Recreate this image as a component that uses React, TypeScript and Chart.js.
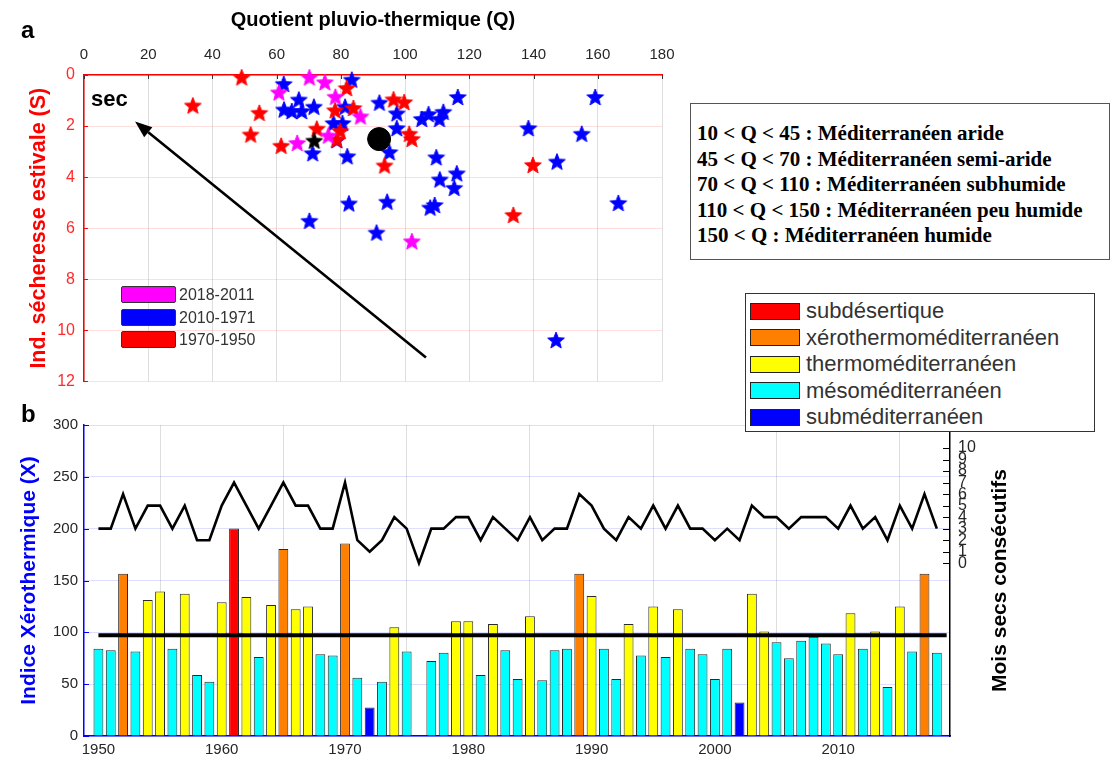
import React, { useEffect, useRef } from 'react';
import { Chart, registerables } from 'chart.js';
Chart.register(...registerables);

const SANS = "'Liberation Sans', Arial, Helvetica, sans-serif";
const SERIF = "'Liberation Serif', 'Times New Roman', serif";

// ---------- Panel a : scatter (Q, S) ----------
const RED_Q = [49.1, 33.9, 54.6, 51.9, 61.4, 72.5, 78.2, 81.8, 83.9, 79.8, 78.7, 96.4, 99.7, 101.3, 102.1, 93.6, 139.8, 133.7];
const RED_S = [0.09, 1.19, 1.48, 2.33, 2.77, 2.10, 1.38, 0.51, 1.29, 2.19, 2.53, 0.95, 1.06, 2.30, 2.50, 3.54, 3.52, 5.48];
const BLUE_Q = [62.2, 66.9, 62.3, 64.7, 67.8, 71.6, 83.4, 81.3, 77.7, 80.5, 78.7, 71.2, 82.0, 92.0, 97.4, 97.4, 95.1, 109.7, 116.4, 105.2, 107.3, 110.7, 111.9, 138.4, 155.0, 159.2, 147.3, 116.1, 110.8, 115.3, 82.5, 94.4, 107.8, 109.2, 166.4, 70.2, 91.1, 147.0];
const BLUE_S = [0.35, 0.96, 1.35, 1.41, 1.41, 1.24, 0.18, 1.24, 1.88, 1.88, 2.55, 3.06, 3.18, 1.08, 1.50, 2.08, 3.02, 3.22, 0.86, 1.72, 1.53, 1.72, 1.44, 2.08, 2.30, 0.86, 3.39, 3.85, 4.09, 4.42, 5.03, 4.96, 5.19, 5.09, 5.01, 5.71, 6.17, 10.38];
const MAGENTA_Q = [70.2, 75.0, 60.7, 78.3, 86.1, 66.4, 76.1, 102.1];
const MAGENTA_S = [0.09, 0.28, 0.68, 0.85, 1.62, 2.66, 2.37, 6.51];
const BLACK_STAR_Q = [71.7];
const BLACK_STAR_S = [2.57];
const MEAN_Q = [91.9];
const MEAN_S = [2.51];
const ARROW_Q = [106.5, 15.9]; // tail, head
const ARROW_S = [11.06, 1.82];
const SEC_LABEL = { text: 'sec', q: 2.2, s: 0.97 };

const Q_TICKS = [0, 20, 40, 60, 80, 100, 120, 140, 160, 180];
const S_TICKS = [0, 2, 4, 6, 8, 10, 12];

const SCATTER_LEGEND = [
  { label: '2018-2011', color: '#ff00ff' },
  { label: '2010-1971', color: '#0000ff' },
  { label: '1970-1950', color: '#ff0000' },
];

const CLIMATE_TEXT = [
  '10 < Q < 45 : Méditerranéen aride',
  '45 < Q < 70 : Méditerranéen semi-aride',
  '70 < Q < 110 : Méditerranéen subhumide',
  '110 < Q < 150 : Méditerranéen peu humide',
  '150 < Q : Méditerranéen humide',
];

// ---------- Panel b : xerothermic index ----------
const YEARS = [
  1950, 1951, 1952, 1953, 1954, 1955, 1956, 1957, 1958, 1959,
  1960, 1961, 1962, 1963, 1964, 1965, 1966, 1967, 1968, 1969,
  1970, 1971, 1972, 1973, 1974, 1975, 1976, 1977, 1978, 1979,
  1980, 1981, 1982, 1983, 1984, 1985, 1986, 1987, 1988, 1989,
  1990, 1991, 1992, 1993, 1994, 1995, 1996, 1997, 1998, 1999,
  2000, 2001, 2002, 2003, 2004, 2005, 2006, 2007, 2008, 2009,
  2010, 2011, 2012, 2013, 2014, 2015, 2016, 2017, 2018,
];
const XERO_INDEX = [
  84.1, 82.8, 156.5, 81.5, 131.3, 139.3, 84.1, 137.1, 58.8, 52.4,
  129.0, 200.1, 134.2, 76.3, 126.4, 180.4, 122.2, 124.8, 78.9, 77.6,
  185.6, 56.3, 27.5, 52.4, 104.8, 81.5, null, 72.4, 80.2, 110.6,
  110.6, 58.8, 108.0, 82.8, 55.0, 115.4, 53.7, 82.8, 84.1, 156.5,
  135.1, 84.1, 55.0, 108.0, 77.6, 124.8, 76.3, 122.2, 84.1, 78.9,
  55.0, 84.1, 32.3, 137.1, 100.9, 90.5, 75.0, 91.8, 95.7, 89.2,
  78.9, 118.3, 84.1, 100.9, 47.2, 124.8, 81.5, 156.5, 80.2,
];
const DRY_MONTHS = [
  3, 3, 6, 3, 5, 5, 3, 5, 2, 2,
  5, 7, 5, 3, 5, 7, 5, 5, 3, 3,
  7, 2, 1, 2, 4, 3, 0, 3, 3, 4,
  4, 2, 4, 3, 2, 4, 2, 3, 3, 6,
  5, 3, 2, 4, 3, 5, 3, 5, 3, 3,
  2, 3, 2, 5, 4, 4, 3, 4, 4, 4,
  3, 5, 3, 4, 2, 5, 3, 6, 3,
];
const MEAN_XERO = [97.3];
const MEAN_SPAN = [1950, 2018.8];
const YEAR_TICKS = [1950, 1960, 1970, 1980, 1990, 2000, 2010];
const X_TICKS = [0, 50, 100, 150, 200, 250, 300];
const MONTH_TICKS = [0, 1, 2, 3, 4, 5, 6, 7, 8, 9, 10];

const CLASSES = [
  { label: 'subdésertique', color: '#ff0000', min: 200 },
  { label: 'xérothermoméditerranéen', color: '#ff8000', min: 150 },
  { label: 'thermoméditerranéen', color: '#ffff00', min: 100 },
  { label: 'mésoméditerranéen', color: '#00ffff', min: 40 },
  { label: 'subméditerranéen', color: '#0000ff', min: 0 },
];

function classColor(v: number | null) {
  if (v === null) return 'rgba(0,0,0,0)';
  for (const c of CLASSES) if (v >= c.min) return c.color;
  return CLASSES[CLASSES.length - 1].color;
}

function makeStar(color: string) {
  const r = 8.8;
  const size = 22;
  const c = document.createElement('canvas');
  c.width = size;
  c.height = size;
  const ctx = c.getContext('2d')!;
  const cx = size / 2, cy = size / 2 + 0.8, ri = r * 0.43;
  ctx.beginPath();
  for (let i = 0; i < 10; i++) {
    const rad = i % 2 === 0 ? r : ri;
    const a = -Math.PI / 2 + (i * Math.PI) / 5;
    const x = cx + rad * Math.cos(a);
    const y = cy + rad * Math.sin(a);
    if (i === 0) ctx.moveTo(x, y); else ctx.lineTo(x, y);
  }
  ctx.closePath();
  ctx.fillStyle = color;
  ctx.fill();
  ctx.strokeStyle = color;
  ctx.lineWidth = 1;
  ctx.stroke();
  return c;
}

const pts = (qs: number[], ss: number[]) => qs.map((q, i) => ({ x: q, y: ss[i] }));

export default function App() {
  const topRef = useRef<HTMLCanvasElement>(null);
  const botRef = useRef<HTMLCanvasElement>(null);

  useEffect(() => {
    const topPlugin = {
      id: 'topAnnot',
      afterDraw(chart: any) {
        const { ctx, scales } = chart;
        const xs = scales.x, ys = scales.y;
        ctx.save();
        // inward ticks
        ctx.lineWidth = 1;
        ctx.strokeStyle = '#333';
        for (const v of Q_TICKS) {
          const px = Math.round(xs.getPixelForValue(v)) + 0.5;
          ctx.beginPath(); ctx.moveTo(px, ys.top); ctx.lineTo(px, ys.top + 4); ctx.stroke();
        }
        ctx.strokeStyle = '#ff0000';
        for (const v of S_TICKS) {
          const py = Math.round(ys.getPixelForValue(v)) + 0.5;
          ctx.beginPath(); ctx.moveTo(xs.left, py); ctx.lineTo(xs.left + 4, py); ctx.stroke();
        }
        // arrow
        const x0 = xs.getPixelForValue(ARROW_Q[0]), y0 = ys.getPixelForValue(ARROW_S[0]);
        const x1 = xs.getPixelForValue(ARROW_Q[1]), y1 = ys.getPixelForValue(ARROW_S[1]);
        const ang = Math.atan2(y1 - y0, x1 - x0);
        const hl = 17, hw = 6.5;
        const bx = x1 - hl * Math.cos(ang), by = y1 - hl * Math.sin(ang);
        ctx.strokeStyle = '#000';
        ctx.lineWidth = 2.6;
        ctx.beginPath(); ctx.moveTo(x0, y0); ctx.lineTo(bx, by); ctx.stroke();
        ctx.fillStyle = '#000';
        ctx.beginPath();
        ctx.moveTo(x1, y1);
        ctx.lineTo(bx + hw * Math.sin(ang), by - hw * Math.cos(ang));
        ctx.lineTo(bx - hw * Math.sin(ang), by + hw * Math.cos(ang));
        ctx.closePath();
        ctx.fill();
        // "sec" label
        ctx.font = `bold 22px ${SANS}`;
        ctx.textAlign = 'left';
        ctx.textBaseline = 'middle';
        ctx.fillText(SEC_LABEL.text, xs.getPixelForValue(SEC_LABEL.q), ys.getPixelForValue(SEC_LABEL.s));
        ctx.restore();
      },
    };

    const top = new Chart(topRef.current!, {
      type: 'scatter',
      data: {
        datasets: [
          { label: 'moyenne', data: pts(MEAN_Q, MEAN_S), pointStyle: 'circle', pointRadius: 11.5, backgroundColor: '#000', borderColor: '#000', clip: false } as any,
          { label: 'black', data: pts(BLACK_STAR_Q, BLACK_STAR_S), pointStyle: makeStar('#000000'), clip: false } as any,
          { label: '2018-2011', data: pts(MAGENTA_Q, MAGENTA_S), pointStyle: makeStar('#ff00ff'), clip: false } as any,
          { label: '1970-1950', data: pts(RED_Q, RED_S), pointStyle: makeStar('#ff0000'), clip: false } as any,
          { label: '2010-1971', data: pts(BLUE_Q, BLUE_S), pointStyle: makeStar('#0000ff'), clip: false } as any,
        ],
      },
      options: {
        animation: false,
        responsive: false,
        maintainAspectRatio: false,
        layout: { padding: { left: 0, top: 0, right: 38, bottom: 15 } },
        plugins: { legend: { display: false }, tooltip: { enabled: false } },
        scales: {
          x: {
            type: 'linear', position: 'top', min: 0, max: 180,
            afterFit: (s: any) => { s.height = 75; },
            afterBuildTicks: (s: any) => { s.ticks = Q_TICKS.map((v) => ({ value: v })); },
            ticks: { padding: 11, color: '#262626', font: { family: SANS, size: 15 } },
            grid: { color: 'rgba(0,0,0,0.13)', drawTicks: false },
            border: { color: '#ff0000', width: 1.5 },
            title: { display: true, text: 'Quotient pluvio-thermique (Q)', color: '#000', font: { family: SANS, size: 20, weight: 'bold' }, padding: { top: 8, bottom: 0 } },
          },
          y: {
            type: 'linear', min: 0, max: 12, reverse: true,
            afterFit: (s: any) => { s.width = 84; },
            afterBuildTicks: (s: any) => { s.ticks = S_TICKS.map((v) => ({ value: v })); },
            ticks: { padding: 9, color: '#ff2a2a', font: { family: SANS, size: 16 } },
            grid: { color: 'rgba(255,0,0,0.13)', drawTicks: false },
            border: { color: '#ff0000', width: 1.5 },
            title: { display: true, text: 'Ind. sécheresse estivale (S)', color: '#ff0000', font: { family: SANS, size: 21.5, weight: 'bold' }, padding: { top: 26, bottom: 0 } },
          },
        },
      } as any,
      plugins: [topPlugin],
    });

    const botPlugin = {
      id: 'botAnnot',
      afterDraw(chart: any) {
        const { ctx, scales } = chart;
        const ys = scales.y, y2 = scales.y2;
        ctx.save();
        ctx.lineWidth = 1;
        ctx.strokeStyle = '#0000ff';
        for (const v of X_TICKS) {
          const py = Math.round(ys.getPixelForValue(v)) + 0.5;
          ctx.beginPath(); ctx.moveTo(ys.right, py); ctx.lineTo(ys.right + 5, py); ctx.stroke();
        }
        ctx.strokeStyle = '#000';
        for (const v of MONTH_TICKS) {
          const py = Math.round(y2.getPixelForValue(v)) + 0.5;
          ctx.beginPath(); ctx.moveTo(y2.left - 7, py); ctx.lineTo(y2.left, py); ctx.stroke();
        }
        ctx.translate(1000, (y2.top + y2.bottom) / 2);
        ctx.rotate(-Math.PI / 2);
        ctx.font = `bold 21px ${SANS}`;
        ctx.fillStyle = '#000';
        ctx.textAlign = 'center';
        ctx.textBaseline = 'middle';
        ctx.fillText('Mois secs consécutifs', 0, 0);
        ctx.restore();
      },
    };

    const bot = new Chart(botRef.current!, {
      type: 'bar',
      data: {
        datasets: [
          {
            type: 'line', label: 'moyenne', yAxisID: 'y',
            data: MEAN_SPAN.map((yr) => ({ x: yr, y: MEAN_XERO[0] })),
            borderColor: '#000', borderWidth: 4, pointRadius: 0, fill: false,
          } as any,
          {
            type: 'line', label: 'Mois secs consécutifs', yAxisID: 'y2',
            data: YEARS.map((yr, i) => ({ x: yr, y: DRY_MONTHS[i] })),
            borderColor: '#000', borderWidth: 2.6, pointRadius: 0, tension: 0, fill: false,
          } as any,
          {
            type: 'bar', label: 'Indice Xérothermique', yAxisID: 'y',
            data: YEARS.map((yr, i) => ({ x: yr, y: XERO_INDEX[i] })),
            backgroundColor: XERO_INDEX.map((v) => classColor(v)),
            borderColor: '#2a2a2a', borderWidth: 1,
            barPercentage: 0.8, categoryPercentage: 1,
          } as any,
        ],
      },
      options: {
        animation: false,
        responsive: false,
        maintainAspectRatio: false,
        layout: { padding: { left: 0, top: 25, right: 0, bottom: 0 } },
        plugins: { legend: { display: false }, tooltip: { enabled: false } },
        scales: {
          x: {
            type: 'linear', min: 1948.83, max: 2019.07, offset: false,
            afterFit: (s: any) => { s.height = 28; },
            afterBuildTicks: (s: any) => { s.ticks = YEAR_TICKS.map((v) => ({ value: v })); },
            ticks: { padding: 5, color: '#262626', font: { family: SANS, size: 15 }, callback: (v: any) => String(v) },
            grid: { color: 'rgba(0,0,0,0.13)', drawTicks: false },
            border: { color: '#0000ff', width: 1.5 },
          },
          y: {
            type: 'linear', position: 'left', min: 0, max: 300,
            afterFit: (s: any) => { s.width = 84; },
            afterBuildTicks: (s: any) => { s.ticks = X_TICKS.map((v) => ({ value: v })); },
            ticks: { padding: 6, color: '#262626', font: { family: SANS, size: 15 } },
            grid: { color: 'rgba(0,0,255,0.13)', drawTicks: false },
            border: { color: '#0000ff', width: 1.5 },
            title: { display: true, text: 'Indice Xérothermique (X)', color: '#0000ff', font: { family: SANS, size: 21, weight: 'bold' }, padding: { top: 17, bottom: 0 } },
          },
          y2: {
            type: 'linear', position: 'right', min: -15, max: 12,
            afterFit: (s: any) => { s.width = 163; },
            afterBuildTicks: (s: any) => { s.ticks = MONTH_TICKS.map((v) => ({ value: v })); },
            ticks: { padding: 8, color: '#262626', autoSkip: false, font: { family: SANS, size: 16 } },
            grid: { drawOnChartArea: false, drawTicks: false },
            border: { color: '#000', width: 1.5 },
          },
        },
      } as any,
      plugins: [botPlugin],
    });

    return () => { top.destroy(); bot.destroy(); };
  }, []);

  return (
    <div style={{ position: 'absolute', left: 0, top: 0, width: 1113, height: 764, background: '#fff', overflow: 'hidden' }}>
      <canvas ref={topRef} width={700} height={400} style={{ position: 'absolute', left: 0, top: 0 }} />
      <canvas ref={botRef} width={1113} height={364} style={{ position: 'absolute', left: 0, top: 400 }} />

      <div style={{ position: 'absolute', left: 21, top: 18, font: `bold 24px ${SANS}`, lineHeight: '24px' }}>a</div>
      <div style={{ position: 'absolute', left: 21, top: 402, font: `bold 24px ${SANS}`, lineHeight: '24px' }}>b</div>

      {SCATTER_LEGEND.map((e, i) => (
        <React.Fragment key={e.label}>
          <div style={{ position: 'absolute', left: 121, top: 286 + i * 22.5, width: 55, height: 17, background: e.color, border: '1px solid #333', borderRadius: 2, boxSizing: 'border-box' }} />
          <div style={{ position: 'absolute', left: 179, top: 286 + i * 22.5, height: 17, lineHeight: '17px', font: `16px ${SANS}`, color: '#333' }}>{e.label}</div>
        </React.Fragment>
      ))}

      <div style={{ position: 'absolute', left: 690, top: 103, width: 420, height: 157, border: '1px solid #555', boxSizing: 'border-box', background: '#fff', paddingTop: 17, paddingLeft: 6 }}>
        {CLIMATE_TEXT.map((t) => (
          <div key={t} style={{ font: `bold 21px ${SERIF}`, lineHeight: '25.5px', whiteSpace: 'nowrap', color: '#000' }}>{t}</div>
        ))}
      </div>

      <div style={{ position: 'absolute', left: 745, top: 293, width: 350, height: 139, border: '1px solid #333', boxSizing: 'border-box', background: '#fff' }}>
        {CLASSES.map((c, i) => (
          <React.Fragment key={c.label}>
            <div style={{ position: 'absolute', left: 4, top: 8.5 + i * 26.5, width: 50, height: 17, background: c.color, border: '1px solid #222', boxSizing: 'border-box' }} />
            <div style={{ position: 'absolute', left: 60, top: 4 + i * 26.5, height: 26, lineHeight: '26px', font: `22px ${SANS}`, color: '#333', whiteSpace: 'nowrap' }}>{c.label}</div>
          </React.Fragment>
        ))}
      </div>
    </div>
  );
}
